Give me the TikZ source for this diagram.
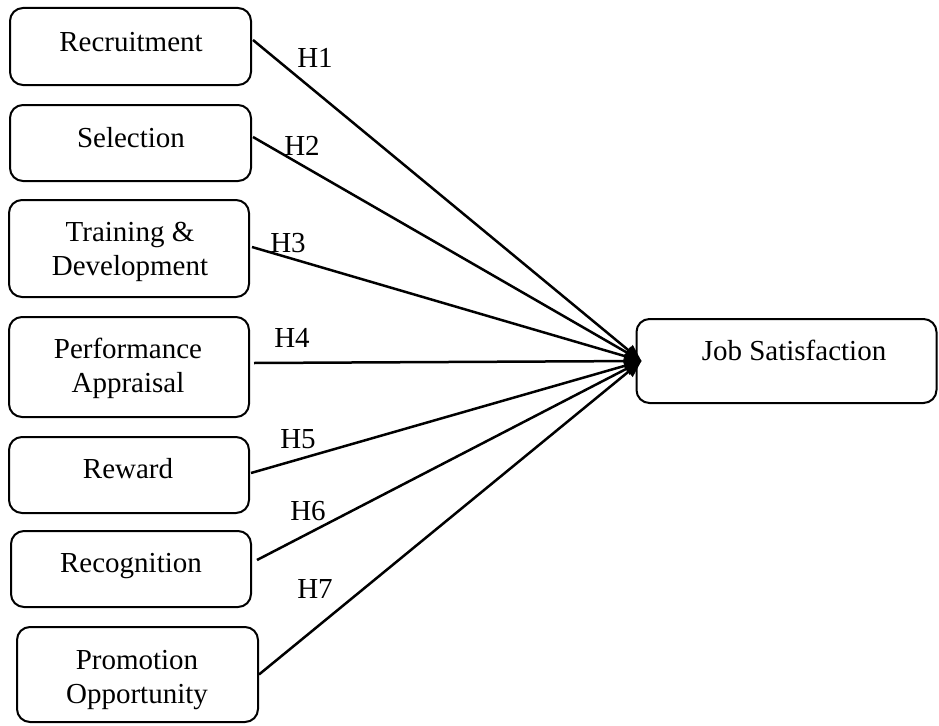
\documentclass[tikz,border=0pt]{standalone}
\usepackage{fontspec}
\setmainfont{Liberation Serif}
\usetikzlibrary{arrows.meta}
\begin{document}
\begin{tikzpicture}[x=1pt,y=-1pt,
  box/.style={draw, line width=2pt, rounded corners=13pt, inner sep=0pt},
  txt/.style={font=\fontsize{29}{34}\selectfont, align=center, anchor=base, inner sep=0pt},
  hyp/.style={font=\fontsize{29}{34}\selectfont, anchor=base, inner sep=0pt},
  conn/.style={line width=2.5pt, -{Triangle[length=17pt,width=13pt]}}]
\useasboundingbox (0,0) rectangle (939,725);
% boxes
\node[box, minimum width=241pt, minimum height=77pt] (r1) at (130.5,46.5) {};
\node[box, minimum width=241pt, minimum height=76pt] (r2) at (130.5,143) {};
\node[box, minimum width=240pt, minimum height=97pt] (r3) at (129,248.5) {};
\node[box, minimum width=240pt, minimum height=100pt] (r4) at (129,367) {};
\node[box, minimum width=240pt, minimum height=76pt] (r5) at (129,475) {};
\node[box, minimum width=240pt, minimum height=76pt] (r6) at (131,569) {};
\node[box, minimum width=241pt, minimum height=95pt] (r7) at (137.5,674.5) {};
\node[box, minimum width=300pt, minimum height=84pt] (js) at (786.5,361) {};
% texts
\node[txt] (t1) at (131,52) {Recruitment};
\node[txt] (t2) at (131,147) {Selection};
\node[txt] (t3) at (130,275) {Training \&\\Development};
\node[txt] (t4) at (128,392) {Performance\\Appraisal};
\node[txt] (t5) at (128,478) {Reward};
\node[txt] (t6) at (131,572) {Recognition};
\node[txt] (t7) at (137,703) {Promotion\\Opportunity};
\node[txt] (tj) at (794,360) {Job Satisfaction};
% connectors
\coordinate (tip) at ([xshift=6pt]js.west);
\draw[conn] ([xshift=1pt,yshift=6.5pt]r1.east) -- (tip);
\draw[conn] ([xshift=1pt,yshift=6pt]r2.east) -- (tip);
\draw[conn] ([xshift=2pt,yshift=1.5pt]r3.east) -- (tip);
\draw[conn] ([xshift=4pt,yshift=4pt]r4.east) -- (tip);
\draw[conn] ([xshift=1pt,yshift=2pt]r5.east) -- (tip);
\draw[conn] ([xshift=5pt,yshift=9pt]r6.east) -- (tip);
\draw[conn] ([xshift=0pt,yshift=0pt]r7.east) -- (tip);
% labels
\node[hyp] (h1) at (315,67) {H1};
\node[hyp] (h2) at (302,155) {H2};
\node[hyp] (h3) at (288,252) {H3};
\node[hyp] (h4) at (292,347) {H4};
\node[hyp] (h5) at (298,448) {H5};
\node[hyp] (h6) at (308,520) {H6};
\node[hyp] (h7) at (315,598) {H7};
\end{tikzpicture}
\end{document}
